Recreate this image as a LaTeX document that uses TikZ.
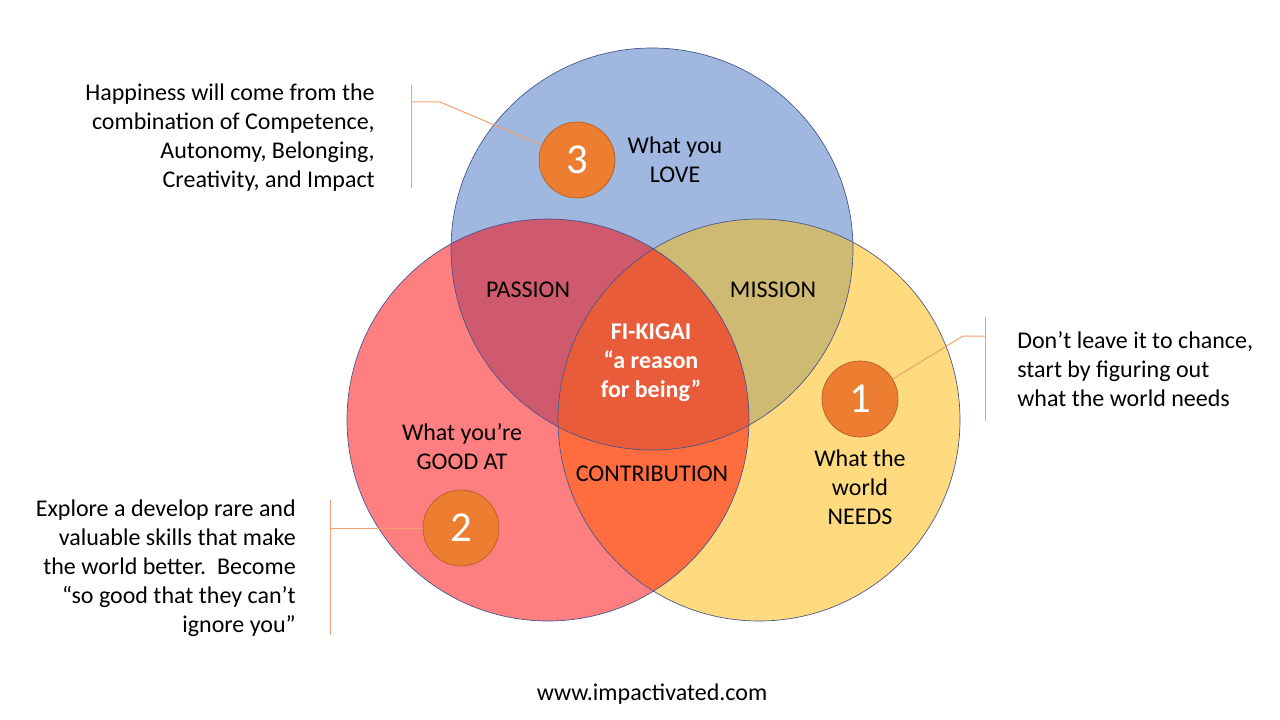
\documentclass[tikz,border=0pt]{standalone}
\usepackage{fontspec}
\setmainfont{Carlito}
\definecolor{cblue}{RGB}{160,183,224}
\definecolor{cred}{RGB}{255,126,128}
\definecolor{cyellow}{RGB}{255,218,126}
\definecolor{cpassion}{RGB}{207,90,110}
\definecolor{cmission}{RGB}{207,186,115}
\definecolor{ccontrib}{RGB}{255,108,61}
\definecolor{ccenter}{RGB}{232,92,58}
\definecolor{ringc}{RGB}{68,84,140}
\definecolor{numfill}{RGB}{237,125,49}
\definecolor{numdraw}{RGB}{176,94,37}
\definecolor{calloutc}{RGB}{240,160,110}
\begin{document}
\begin{tikzpicture}[x=0.75pt,y=-0.75pt,
  ring/.style={draw=ringc,line width=0.5pt},
  num/.style={circle,fill=numfill,draw=numdraw,line width=0.5pt,minimum size=57pt,inner sep=0pt,text=white,font=\fontsize{32}{38}\selectfont},
  callout/.style={draw=calloutc,line width=0.75pt},
  lbl/.style={font=\fontsize{18}{21.75}\selectfont,align=center,inner sep=0pt},
  note/.style={font=\fontsize{18}{21.75}\selectfont,inner sep=0pt}]
\useasboundingbox (0,0) rectangle (1280,720);
% base circles
\fill[cblue] (652,249) circle[radius=201];
\fill[cred] (548,420) circle[radius=201];
\fill[cyellow] (759,420) circle[radius=201];
% overlaps
\begin{scope}
  \clip (652,249) circle[radius=201];
  \fill[cpassion] (548,420) circle[radius=201];
\end{scope}
\begin{scope}
  \clip (652,249) circle[radius=201];
  \fill[cmission] (759,420) circle[radius=201];
\end{scope}
\begin{scope}
  \clip (548,420) circle[radius=201];
  \fill[ccontrib] (759,420) circle[radius=201];
\end{scope}
\begin{scope}
  \clip (652,249) circle[radius=201];
  \clip (548,420) circle[radius=201];
  \fill[ccenter] (759,420) circle[radius=201];
\end{scope}
% outlines
\draw[ring] (652,249) circle[radius=201];
\draw[ring] (548,420) circle[radius=201];
\draw[ring] (759,420) circle[radius=201];
% labels
\node[lbl] (love) at (675,160) {What you\\LOVE};
\node[lbl] (passion) at (528,290) {PASSION};
\node[lbl] (mission) at (773,290) {MISSION};
\node[lbl,text=white,font=\fontsize{18}{21.75}\selectfont\bfseries] (ikigai) at (651,363) {FI-KIGAI\\“a reason\\for being”};
\node[lbl] (good) at (462,447) {What you’re\\GOOD AT};
\node[lbl] (contrib) at (652,474) {CONTRIBUTION};
\node[lbl] (needs) at (860,487) {What the\\world\\NEEDS};
\node[lbl] (url) at (652,694) {www.impactivated.com};
% numbered circles
\node[num] (n3) at (577,160) {3};
\node[num] (n1) at (860,399) {1};
\node[num] (n2) at (461,528) {2};
% callout 3
\coordinate (c3top) at (411,85);
\coordinate (c3bot) at (411,188);
\coordinate (c3j) at (411,102);
\coordinate (c3k) at (440,102);
\draw[callout] (c3top) -- (c3bot);
\draw[callout] (c3j) -- (c3k) -- (n3);
% callout 1
\coordinate (c1top) at (985,317);
\coordinate (c1bot) at (985,421);
\coordinate (c1j) at (985,336);
\coordinate (c1k) at (963,336);
\draw[callout] (c1top) -- (c1bot);
\draw[callout] (c1j) -- (c1k) -- (n1);
% callout 2
\coordinate (c2top) at (330,500);
\coordinate (c2bot) at (330,635);
\coordinate (c2j) at (330,528);
\draw[callout] (c2top) -- (c2bot);
\draw[callout] (c2j) -- (n2);
% notes
\node[note,align=right,anchor=east] (note3) at (375,138) {Happiness will come from the\\combination of Competence,\\Autonomy, Belonging,\\Creativity, and Impact};
\node[note,align=left,anchor=west] (note1) at (1017,369) {Don’t leave it to chance,\\start by figuring out\\what the world needs};
\node[note,align=right,anchor=east] (note2) at (296,568) {Explore a develop rare and\\valuable skills that make\\the world better.\ \ Become\\“so good that they can’t\\ignore you”};
\end{tikzpicture}
\end{document}
